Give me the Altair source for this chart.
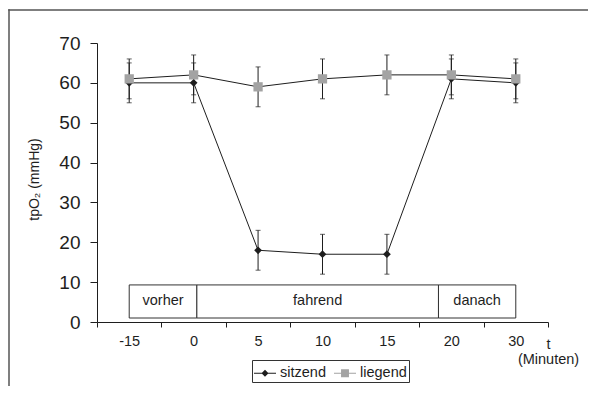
import altair as alt
import pandas as pd

FONT = "Liberation Sans"

# ---- data ----
categories = ["-15", "0", "5", "10", "15", "20", "30"]
sitzend = [60, 60, 18, 17, 17, 61, 60]
sitzend_err = [5, 5, 5, 5, 5, 5, 5]
liegend = [61, 62, 59, 61, 62, 62, 61]
liegend_err = [5, 5, 5, 5, 5, 5, 5]
series_names = ["sitzend", "liegend"]

phases = ["vorher", "fahrend", "danach"]
phase_start = [0, 1.05, 4.8]     # category-index units
phase_end = [1.05, 4.8, 6]
phase_low = [1, 1, 1]
phase_high = [9.3, 9.3, 9.3]

# ---- tables ----
rows = []
for name, vals, errs in [("sitzend", sitzend, sitzend_err), ("liegend", liegend, liegend_err)]:
    for c, v, e in zip(categories, vals, errs):
        rows.append({"t": c, "series": name, "value": v, "lo": v - e, "hi": v + e})
df = pd.DataFrame(rows)

phase_df = pd.DataFrame({
    "phase": phases, "start": phase_start, "end": phase_end,
    "low": phase_low, "high": phase_high,
})
phase_df["mid"] = (phase_df["start"] + phase_df["end"]) / 2
phase_df["ymid"] = (phase_df["low"] + phase_df["high"]) / 2

W, H = 451, 279
PAD = {"left": 89, "top": 35, "right": 40, "bottom": 64}
INK = "#1e1e1e"
GRAY = "#a3a3a3"

x_enc = alt.X(
    "t:O", sort=categories,
    scale=alt.Scale(domain=categories, paddingInner=0, paddingOuter=0),
    axis=alt.Axis(
        title=["t", "(Minuten)"], labelAngle=0, tickBand="extent",
        tickSize=5, labelPadding=7, labelFontSize=14.5,
        titleFontSize=14.5, titleX=W, titleY=26, titleAlign="center",
        titleBaseline="alphabetic", titleLineHeight=15,
    ),
)
y_scale = alt.Scale(domain=[0, 70], nice=False, zero=True)
y_axis = alt.Axis(
    values=list(range(0, 71, 10)), title="tpO₂ (mmHg)", grid=False,
    tickSize=7, labelPadding=10, labelFontSize=19,
    titleFontSize=14, titleX=-63, titleY=136, titleAngle=-90,
    titleAlign="center", titleBaseline="middle",
)

base = alt.Chart(df)

def series_layers(name, color, shape, size):
    d = base.transform_filter(alt.datum.series == name)
    rule = d.mark_rule(color=INK, strokeWidth=1).encode(
        x=x_enc, y=alt.Y("lo:Q", scale=y_scale, axis=y_axis), y2="hi:Q")
    cap_lo = d.mark_tick(color=INK, size=5, thickness=1).encode(
        x=x_enc, y=alt.Y("lo:Q", scale=y_scale, axis=y_axis))
    cap_hi = d.mark_tick(color=INK, size=5, thickness=1).encode(
        x=x_enc, y=alt.Y("hi:Q", scale=y_scale, axis=y_axis))
    line = d.mark_line(color=INK, strokeWidth=1).encode(
        x=x_enc, y=alt.Y("value:Q", scale=y_scale, axis=y_axis))
    pts = d.mark_point(filled=True, color=color, shape=shape, size=size, opacity=1).encode(
        x=x_enc, y=alt.Y("value:Q", scale=y_scale, axis=y_axis))
    return [rule, cap_lo, cap_hi, line, pts]

DIAMOND_LEG = "M-1,-0.045H1V0.045H-1Z M0,-0.32L0.32,0L0,0.32L-0.32,0Z"
SQUARE_LEG = "M-1,-0.045H1V0.045H-1Z M-0.36,-0.36H0.36V0.36H-0.36Z"

legend_def = alt.Legend(
    title=None, orient="none", legendX=155, legendY=317, direction="horizontal",
    strokeColor="#333", padding=2, labelFontSize=14.5, labelFont=FONT,
    labelColor=INK, symbolSize=484, labelOffset=4, columnPadding=8,
    symbolStrokeWidth=0,
)
legend_layer = base.transform_filter("false").mark_point(
    filled=True, size=484, opacity=1
).encode(
    shape=alt.Shape("series:N", scale=alt.Scale(domain=series_names, range=[DIAMOND_LEG, SQUARE_LEG]),
                    legend=legend_def),
    color=alt.Color("series:N", scale=alt.Scale(domain=series_names, range=[INK, GRAY]),
                    legend=legend_def),
)

data_group = alt.layer(
    *series_layers("sitzend", INK, "diamond", 60),
    *series_layers("liegend", GRAY, "square", 86),
    legend_layer,
)

px = alt.Chart(phase_df)
x_q = alt.Scale(domain=[-0.5, 6.5], nice=False, zero=False)
phase_rect = px.mark_rect(fill="white", stroke="#333", strokeWidth=1).encode(
    x=alt.X("start:Q", scale=x_q, axis=None), x2="end:Q",
    y=alt.Y("low:Q", scale=y_scale, axis=y_axis), y2="high:Q",
)
phase_text = px.mark_text(font=FONT, fontSize=14.5, color=INK, baseline="middle", align="center").encode(
    x=alt.X("mid:Q", scale=x_q, axis=None),
    y=alt.Y("ymid:Q", scale=y_scale, axis=y_axis),
    text="phase:N",
)
phase_group = alt.layer(phase_rect, phase_text)

# decorative outer frame (thin filled bands): only left and top edges are inside the picture
frame_src = alt.Chart(pd.DataFrame({"a": [0]}))
frame_left = frame_src.mark_rect(fill="#555", strokeWidth=0).encode(
    x=alt.value(-88.75), x2=alt.value(-87.25),
    y=alt.value(-33.75), y2=alt.value(H + PAD["bottom"])
)
frame_top = frame_src.mark_rect(fill="#555", strokeWidth=0).encode(
    x=alt.value(-88.75), x2=alt.value(W + PAD["right"]),
    y=alt.value(-33.75), y2=alt.value(-32.25)
)

chart = alt.layer(frame_left, frame_top, phase_group, data_group).resolve_scale(x="independent").properties(
    width=W, height=H,
    autosize=alt.AutoSizeParams(type="none"),
    padding=PAD,
).configure_view(stroke=None).configure_axis(
    labelFont=FONT, titleFont=FONT, labelColor=INK, titleColor=INK,
    domainColor=INK, tickColor=INK, titleFontWeight="normal",
)

chart.save("out.html", embed_options={"renderer": "svg", "actions": False})
